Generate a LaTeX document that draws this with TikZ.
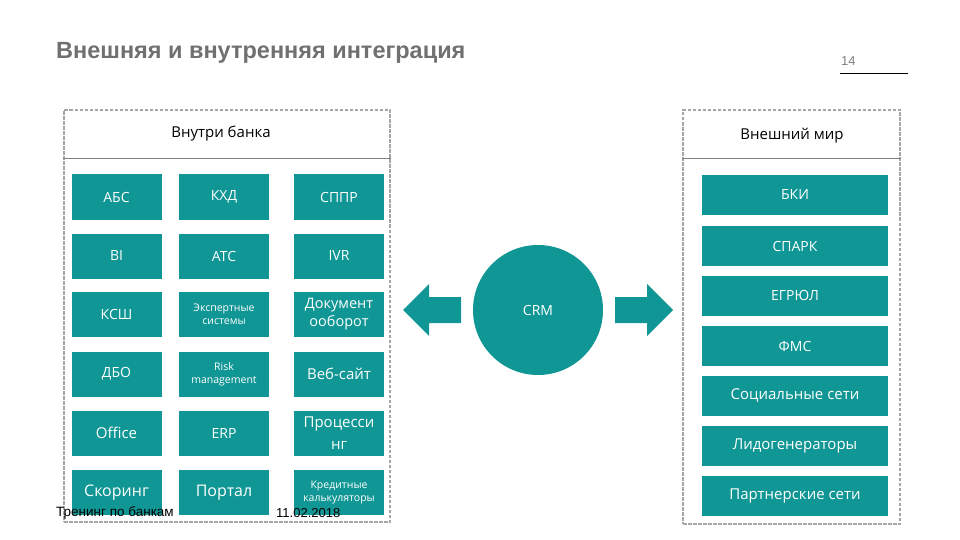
\documentclass[tikz,border=0pt]{standalone}
\usepackage{fontspec}
\setmainfont{Liberation Sans}
\newfontfamily\boxfont{Open Sans}
\usetikzlibrary{positioning}
\definecolor{crmteal}{RGB}{16,150,148}
\definecolor{titlegray}{RGB}{112,112,112}

\begin{document}
\begin{tikzpicture}[x=1pt, y=-1pt,
    sysbox/.style={fill=crmteal, text=white, font=\boxfont\fontsize{14}{16}\selectfont, align=center, inner sep=0pt, minimum width=90pt, minimum height=45pt},
    small/.style={font=\boxfont\fontsize{10.5}{13}\selectfont},
    extbox/.style={sysbox, minimum width=186pt, minimum height=40pt},
    panel/.style={draw=gray!70, dash pattern=on 3.5pt off 1.5pt, line width=1.5pt, inner sep=0pt},
    head/.style={font=\boxfont\fontsize{15}{18}\selectfont, inner sep=0pt}]
    \useasboundingbox (0,0) rectangle (960,540);

    \node[anchor=west, inner sep=0pt, text=titlegray, font=\bfseries\fontsize{23.5}{26}\selectfont] (title) at (56,53) {Внешняя и внутренняя интеграция};
    \node[anchor=west, inner sep=0pt, text=gray, font=\fontsize{13}{15}\selectfont] (page) at (841,61) {14};
    \coordinate (pgl) at (840,73);
    \coordinate (pgr) at (908,73);
    \draw[line width=0.8pt] (pgl) -- (pgr);

    % panels
    \node[panel, minimum width=326pt, minimum height=412pt] (inside) at (227,316) {};
    \node[panel, minimum width=217pt, minimum height=414pt] (outside) at (791.5,317) {};
    \coordinate (hline) at (0,158);
    \draw[gray, line width=0.8pt] (inside.west |- hline) -- (inside.east |- hline);
    \draw[gray, line width=0.8pt] (outside.west |- hline) -- (outside.east |- hline);
    \node[head] (insidehead) at (221,134) {Внутри банка};
    \node[head] (outsidehead) at (792,136) {Внешний мир};

    % inside the bank
    \node[sysbox] (abs) at (116.5,197) {АБС};
    \node[sysbox] (kxd) at (224,197) {КХД};
    \node[sysbox] (sppr) at (339,197) {СППР};
    \node[sysbox] (bi) at (116.5,256) {BI};
    \node[sysbox] (ats) at (224,256) {АТС};
    \node[sysbox] (ivr) at (339,256) {IVR};
    \node[sysbox] (ksh) at (116.5,314.5) {КСШ};
    \node[sysbox, small] (expert) at (224,314.5) {Экспертные\\системы};
    \node[sysbox, font=\boxfont\fontsize{14.5}{18}\selectfont] (docs) at (339,314.5) {Документ\\ооборот};
    \node[sysbox] (dbo) at (116.5,374) {ДБО};
    \node[sysbox, small] (risk) at (224,374) {Risk\\management};
    \node[sysbox, font=\boxfont\fontsize{15}{18}\selectfont] (web) at (339,374) {Веб-сайт};
    \node[sysbox, font=\boxfont\fontsize{15}{18}\selectfont] (office) at (116.5,433) {Office};
    \node[sysbox] (erp) at (224,433) {ERP};
    \node[sysbox, font=\boxfont\fontsize{15}{18}\selectfont] (proc) at (339,433) {Процесси\\[4pt]нг};
    \node[sysbox, font=\boxfont\fontsize{16}{18}\selectfont] (scoring) at (116.5,492.5) {Скоринг};
    \node[sysbox, font=\boxfont\fontsize{16}{18}\selectfont] (portal) at (224,492.5) {Портал};
    \node[sysbox, small] (calc) at (339,492.5) {Кредитные\\калькуляторы};

    % CRM
    \node[circle, fill=crmteal, minimum size=130pt, inner sep=0pt, text=white, font=\boxfont\fontsize{14}{16}\selectfont] (crm) at (538,310) {CRM};
    \fill[crmteal] (403,310) -- (429,284) -- (429,297) -- (461,297) -- (461,323) -- (429,323) -- (429,336) -- cycle;
    \fill[crmteal] (673,310) -- (647,284) -- (647,297) -- (615,297) -- (615,323) -- (647,323) -- (647,336) -- cycle;

    % outside world
    \node[extbox] (bki) at (795,195) {БКИ};
    \node[extbox] (spark) at (795,246) {СПАРК};
    \node[extbox] (egrul) at (795,296) {ЕГРЮЛ};
    \node[extbox] (fms) at (795,346) {ФМС};
    \node[extbox, font=\boxfont\fontsize{15}{18}\selectfont] (social) at (795,395.5) {Социальные сети};
    \node[extbox, font=\boxfont\fontsize{15}{18}\selectfont] (leads) at (795,445.5) {Лидогенераторы};
    \node[extbox, font=\boxfont\fontsize{15}{18}\selectfont] (partners) at (795,495.5) {Партнерские сети};

    \node[anchor=west, inner sep=0pt, font=\fontsize{13.5}{15}\selectfont] (trn) at (56,513) {Тренинг по банкам};
    \node[anchor=west, inner sep=0pt, font=\fontsize{13}{15}\selectfont] (date) at (276,513) {11.02.2018};
\end{tikzpicture}
\end{document}
